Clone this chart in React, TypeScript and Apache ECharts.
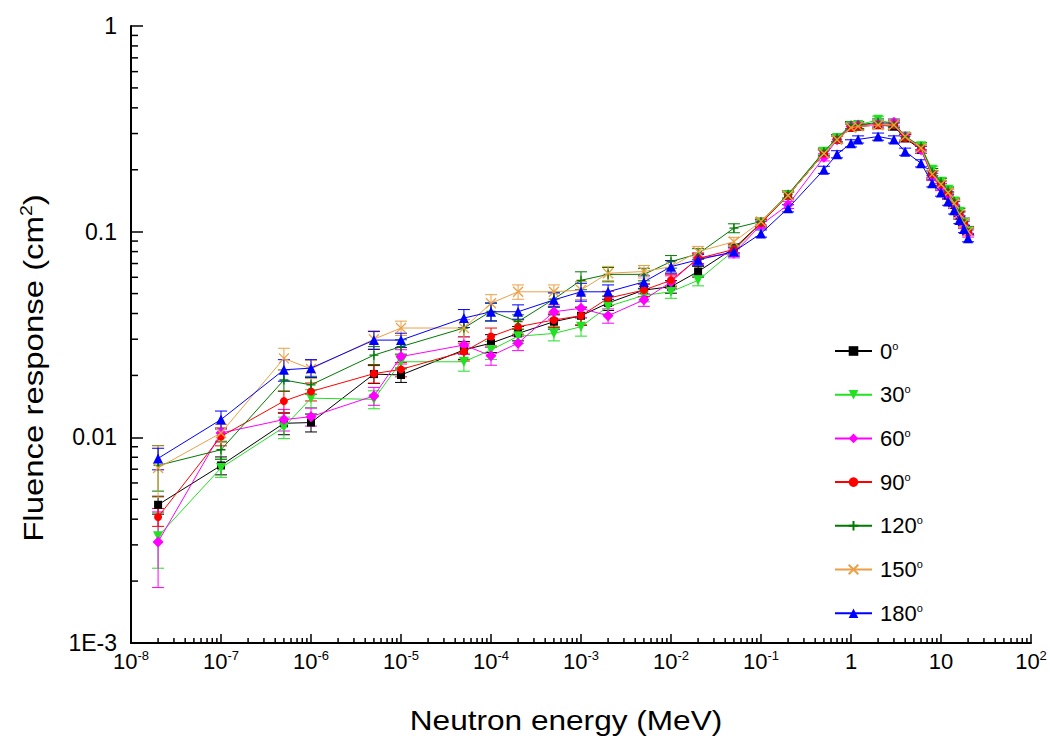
import React, { useEffect, useRef } from 'react';
import * as echarts from 'echarts';

const FONT = '"Liberation Sans", Arial, Helvetica, sans-serif';

// Neutron energies (MeV)
const energies = [
  2e-8, 1e-7, 5e-7, 1e-6, 5e-6, 1e-5, 5e-5, 1e-4, 2e-4, 5e-4, 1e-3, 2e-3, 5e-3, 1e-2, 2e-2, 5e-2,
  0.1, 0.2, 0.5, 0.7, 1, 1.2, 2, 3, 4, 6, 8, 10, 12, 14, 16, 18, 20,
];

const angles = ['0°', '30°', '60°', '90°', '120°', '150°', '180°'];

// Fluence response (cm^2) per angle
const resp0 = [
  0.0047, 0.0073, 0.0117, 0.0118, 0.0203, 0.0201, 0.0266, 0.0287, 0.032, 0.0365, 0.039, 0.045, 0.052, 0.054, 0.064, 0.083,
  0.11, 0.15, 0.24, 0.28, 0.32, 0.325, 0.33, 0.325, 0.285, 0.25, 0.19, 0.17, 0.15, 0.135, 0.12, 0.11, 0.1,
];
const resp30 = [
  0.0033, 0.0071, 0.0112, 0.0155, 0.0153, 0.0233, 0.0233, 0.0266, 0.031, 0.032, 0.0345, 0.0433, 0.049, 0.051, 0.058, 0.081,
  0.11, 0.15, 0.245, 0.285, 0.325, 0.33, 0.35, 0.335, 0.29, 0.26, 0.2, 0.175, 0.16, 0.14, 0.125, 0.11, 0.1,
];
const resp60 = [
  0.0031, 0.0105, 0.0122, 0.0126, 0.0159, 0.0247, 0.0281, 0.0249, 0.0287, 0.0408, 0.0424, 0.039, 0.0466, 0.057, 0.0744, 0.0785,
  0.108, 0.135, 0.23, 0.28, 0.325, 0.33, 0.335, 0.34, 0.29, 0.25, 0.185, 0.165, 0.15, 0.135, 0.12, 0.108, 0.098,
];
const resp90 = [
  0.0041, 0.0101, 0.015, 0.0167, 0.0204, 0.0214, 0.0261, 0.0309, 0.0345, 0.0372, 0.039, 0.0475, 0.052, 0.058, 0.074, 0.082,
  0.11, 0.15, 0.24, 0.28, 0.32, 0.325, 0.33, 0.33, 0.285, 0.255, 0.19, 0.17, 0.155, 0.138, 0.122, 0.11, 0.1,
];
const resp120 = [
  0.0073, 0.0087, 0.019, 0.018, 0.0251, 0.0276, 0.034, 0.041, 0.0365, 0.047, 0.058, 0.062, 0.062, 0.0715, 0.078, 0.104,
  0.112, 0.152, 0.245, 0.285, 0.33, 0.33, 0.34, 0.335, 0.29, 0.26, 0.195, 0.175, 0.158, 0.14, 0.125, 0.112, 0.102,
];
const resp150 = [
  0.0071, 0.0105, 0.0242, 0.0215, 0.03, 0.034, 0.034, 0.0449, 0.051, 0.051, 0.052, 0.0628, 0.064, 0.0676, 0.08, 0.0894,
  0.112, 0.15, 0.24, 0.28, 0.32, 0.325, 0.33, 0.33, 0.29, 0.255, 0.19, 0.17, 0.155, 0.137, 0.122, 0.11, 0.1,
];
const resp180 = [
  0.0079, 0.0122, 0.0213, 0.0217, 0.0297, 0.0297, 0.038, 0.0408, 0.0408, 0.0466, 0.051, 0.051, 0.057, 0.0676, 0.073, 0.08,
  0.098, 0.13, 0.2, 0.238, 0.269, 0.281, 0.29, 0.281, 0.245, 0.215, 0.172, 0.155, 0.14, 0.127, 0.114, 0.103, 0.093,
];

// relative uncertainty per energy (error bars), and at the lowest energy per angle
const relErr = [
  0.15, 0.1, 0.12, 0.1, 0.1, 0.08, 0.1, 0.1, 0.08, 0.08, 0.1, 0.08, 0.07, 0.07, 0.06, 0.05,
  0.04, 0.04, 0.04, 0.04, 0.04, 0.04, 0.04, 0.04, 0.04, 0.04, 0.04, 0.04, 0.04, 0.04, 0.04, 0.04, 0.04,
];
const firstPointErr = [0.1, 0.3, 0.4, 0.1, 0.25, 0.28, 0.12];

const xTickLabels = [
  '{b|10}{sup|-8}', '{b|10}{sup|-7}', '{b|10}{sup|-6}', '{b|10}{sup|-5}', '{b|10}{sup|-4}', '{b|10}{sup|-3}',
  '{b|10}{sup|-2}', '{b|10}{sup|-1}', '{b|1}', '{b|10}', '{b|10}{sup|2}',
];
const yTickLabels = ['1E-3', '0.01', '0.1', '1'];

const seriesValues = [resp0, resp30, resp60, resp90, resp120, resp150, resp180];
const colors = ['#000000', '#22E022', '#FF00FF', '#FF0000', '#007A00', '#EBA048', '#0000FF'];
const symbols = [
  'rect',
  'path://M0,0L10,0L5,9Z',
  'diamond',
  'circle',
  'path://M5,0L5,10M0,5L10,5',
  'path://M0,0L10,10M10,0L0,10',
  'triangle',
];
const symbolSizes = [8, 10, 11, 8, 9, 10, 10];
const strokeSymbol = [false, false, false, false, true, true, false];

export default function App() {
  const ref = useRef<HTMLDivElement>(null);

  useEffect(() => {
    if (!ref.current) return;
    const chart = echarts.init(ref.current, undefined, { renderer: 'svg' });

    const minorMult = [2, 3, 4, 5, 6, 7, 8, 9];
    const minorTicks: number[][] = [];
    for (let d = -8; d < 2; d++) for (const m of minorMult) minorTicks.push([m * Math.pow(10, d), 0.001, 0]);
    for (let d = -3; d < 0; d++) for (const m of minorMult) minorTicks.push([1e-8, m * Math.pow(10, d), 1]);

    const lineSeries = angles.map((name, i) => ({
      name,
      type: 'line',
      data: energies.map((e, j) => [e, seriesValues[i][j]]),
      symbol: symbols[i],
      symbolSize: symbolSizes[i],
      lineStyle: { color: colors[i], width: 1 },
      itemStyle: strokeSymbol[i]
        ? { color: colors[i], borderColor: colors[i], borderWidth: 1.3 }
        : { color: colors[i], borderWidth: 0 },
      emphasis: { disabled: true },
      z: 3 + i * 0.01,
    }));

    const errSeries = angles.map((name, i) => ({
      name: name + ' err',
      type: 'custom',
      data: energies.map((e, j) => {
        const v = seriesValues[i][j];
        const r = j === 0 ? firstPointErr[i] : relErr[j];
        return [e, v * (1 - r), v * (1 + r)];
      }),
      encode: { x: 0, y: [1, 2] },
      silent: true,
      z: 2,
      renderItem: (params: any, api: any) => {
        const x = api.value(0);
        const p1 = api.coord([x, api.value(1)]);
        const p2 = api.coord([x, api.value(2)]);
        const w = 6;
        const st = { stroke: colors[i], lineWidth: 1 };
        return {
          type: 'group',
          children: [
            { type: 'line', shape: { x1: p1[0], y1: p1[1], x2: p2[0], y2: p2[1] }, style: st },
            { type: 'line', shape: { x1: p1[0] - w, y1: p1[1], x2: p1[0] + w, y2: p1[1] }, style: st },
            { type: 'line', shape: { x1: p2[0] - w, y1: p2[1], x2: p2[0] + w, y2: p2[1] }, style: st },
          ],
        };
      },
    }));

    const tickSeries = {
      name: 'minor ticks',
      type: 'custom',
      data: minorTicks,
      encode: { x: 0, y: 1 },
      silent: true,
      z: 10,
      renderItem: (params: any, api: any) => {
        const p = api.coord([api.value(0), api.value(1)]);
        const k = api.value(2);
        const shape =
          k === 0
            ? { x1: p[0], y1: p[1], x2: p[0], y2: p[1] - 5 }
            : { x1: p[0], y1: p[1], x2: p[0] + 7, y2: p[1] };
        return { type: 'line', shape, style: { stroke: '#000', lineWidth: 1.5 } };
      },
    };

    chart.setOption({
      animation: false,
      grid: { left: 131, top: 26, right: 19, bottom: 110, containLabel: false },
      xAxis: {
        type: 'log',
        logBase: 10,
        min: 1e-8,
        max: 100,
        interval: 1,
        splitLine: { show: false },
        axisLine: { show: true, lineStyle: { color: '#000', width: 2 } },
        axisTick: { show: true, inside: true, length: 9, lineStyle: { color: '#000', width: 1.5 } },
        axisLabel: {
          margin: 6,
          color: '#000',
          fontFamily: FONT,
          formatter: (v: number) => xTickLabels[Math.round(Math.log10(v)) + 8],
          rich: {
            b: { fontSize: 22, fontFamily: FONT, color: '#000', lineHeight: 24 },
            sup: { fontSize: 13, fontFamily: FONT, color: '#000', verticalAlign: 'top', lineHeight: 13 },
          },
        },
      },
      yAxis: {
        type: 'log',
        logBase: 10,
        min: 0.001,
        max: 1,
        interval: 1,
        splitLine: { show: false },
        axisLine: { show: true, lineStyle: { color: '#000', width: 2 } },
        axisTick: { show: true, inside: true, length: 12, lineStyle: { color: '#000', width: 1.5 } },
        axisLabel: {
          margin: 14,
          color: '#000',
          fontSize: 23,
          fontFamily: FONT,
          formatter: (v: number) => yTickLabels[Math.round(Math.log10(v)) + 3],
        },
      },
      legend: {
        data: angles,
        orient: 'vertical',
        left: 829,
        top: 335,
        itemWidth: 37,
        itemHeight: 12,
        itemGap: 21.7,
        selectedMode: false,
        formatter: (name: string) => `{n|${name.replace('°', '')}}{s|o}`,
        textStyle: {
          color: '#000',
          fontFamily: FONT,
          fontSize: 22,
          padding: [0, 0, 0, 3],
          rich: {
            n: { fontSize: 22, fontFamily: FONT, color: '#000', lineHeight: 22 },
            s: { fontSize: 11, fontFamily: FONT, color: '#000', verticalAlign: 'top', lineHeight: 11 },
          },
        },
      },
      graphic: [
        {
          type: 'text',
          x: 566,
          y: 720,
          scaleX: 1.17,
          style: {
            text: 'Neutron energy (MeV)',
            fontSize: 27,
            fontFamily: FONT,
            fill: '#000',
            align: 'center',
            verticalAlign: 'middle',
          },
        },
        {
          type: 'text',
          x: 34,
          y: 368,
          rotation: Math.PI / 2,
          scaleX: 1.22,
          style: {
            text: '{b|Fluence response (cm}{sup|2}{b|)}',
            fontSize: 27,
            fontFamily: FONT,
            fill: '#000',
            align: 'center',
            verticalAlign: 'middle',
            rich: {
              b: { fontSize: 27, fontFamily: FONT, fill: '#000', lineHeight: 30 },
              sup: { fontSize: 16, fontFamily: FONT, fill: '#000', verticalAlign: 'top', lineHeight: 16 },
            },
          },
        },
      ],
      series: [...errSeries, ...lineSeries, tickSeries],
    });

    return () => chart.dispose();
  }, []);

  return (
    <div
      ref={ref}
      style={{ position: 'absolute', left: 0, top: 0, width: 1050, height: 753, background: '#fff' }}
    />
  );
}
